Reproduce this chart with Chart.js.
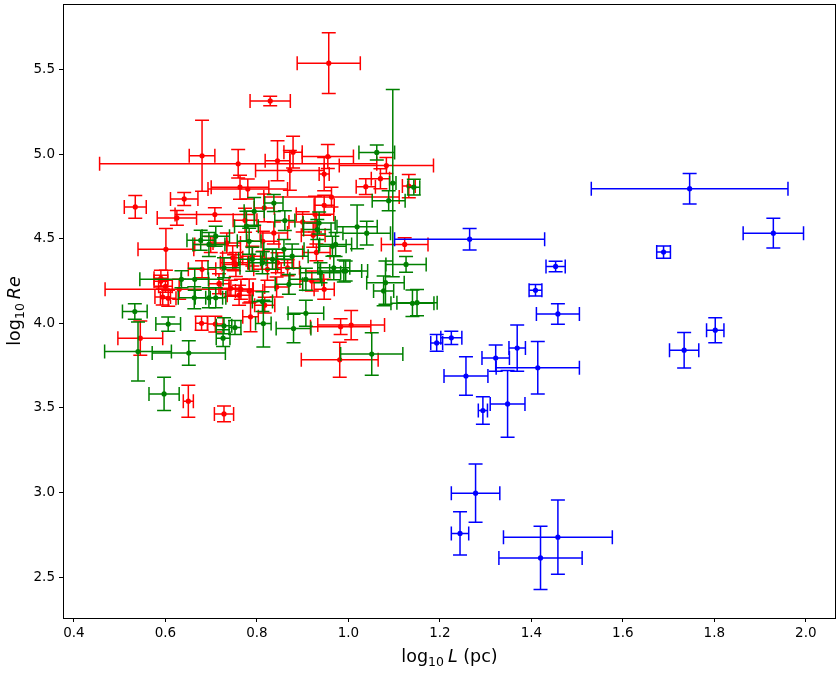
<!DOCTYPE html>
<html>
<head>
<meta charset="utf-8">
<script src="https://cdn.jsdelivr.net/npm/chart.js@4.4.1/dist/chart.umd.min.js"></script>
<style>
  body { margin: 0; background: #fff; }
  #wrap { width: 840px; height: 673px; }
</style>
</head>
<body>
<div id="wrap"><canvas id="myChart" width="840" height="673"></canvas></div>
<script>
// red group: log10 L, log10 Re and their errors
var redX = [0.957, 0.829, 0.680, 0.759, 1.083, 0.845, 0.879, 0.955, 0.872, 0.763,
  0.780, 0.963, 1.038, 1.070, 1.132, 0.641, 0.947, 0.927, 0.947, 1.123,
  0.923, 0.983, 1.006, 0.981, 0.817, 0.843, 0.947, 0.920, 0.545, 0.650,
  0.728, 0.679, 0.709, 0.786, 0.594, 0.606, 0.534, 0.625, 0.708, 0.601,
  0.734, 0.774, 0.813, 0.816, 0.590, 0.630, 0.717, 0.754, 0.765, 0.837,
  0.699, 0.790, 0.747, 0.750, 0.845, 0.867, 0.823, 0.743, 0.783, 0.761,
  0.590, 0.600, 0.900, 0.930, 0.680];
var redY = [5.539, 5.316, 4.991, 4.944, 4.934, 4.962, 5.013, 4.987, 4.905, 4.806,
  4.795, 4.747, 4.809, 4.856, 4.812, 4.736, 4.883, 4.646, 4.699, 4.467,
  4.522, 3.981, 3.990, 3.785, 4.108, 4.215, 4.202, 4.251, 3.913, 3.540,
  3.465, 4.001, 3.996, 4.039, 4.156, 4.149, 4.689, 4.624, 4.644, 4.438,
  4.476, 4.610, 4.486, 4.683, 4.267, 4.202, 4.235, 4.349, 4.202, 4.535,
  4.467, 4.398, 4.388, 4.359, 4.359, 4.329, 4.320, 4.208, 4.192, 4.167,
  4.250, 4.220, 4.600, 4.420, 4.320];
var redXErr = [0.069, 0.044, 0.028, 0.303, 0.103, 0.027, 0.020, 0.056, 0.075, 0.063,
  0.087, 0.148, 0.021, 0.020, 0.014, 0.030, 0.011, 0.041, 0.022, 0.051,
  0.026, 0.066, 0.073, 0.084, 0.022, 0.026, 0.022, 0.026, 0.049, 0.011,
  0.021, 0.013, 0.017, 0.017, 0.017, 0.017, 0.024, 0.043, 0.087, 0.061,
  0.030, 0.026, 0.035, 0.022, 0.015, 0.162, 0.022, 0.030, 0.026, 0.030,
  0.035, 0.026, 0.022, 0.030, 0.035, 0.026, 0.030, 0.022, 0.030, 0.026,
  0.015, 0.015, 0.030, 0.030, 0.030];
var redYErr = [0.180, 0.028, 0.210, 0.084, 0.047, 0.118, 0.094, 0.071, 0.118, 0.071,
  0.059, 0.059, 0.047, 0.059, 0.069, 0.039, 0.098, 0.106, 0.059, 0.039,
  0.071, 0.047, 0.087, 0.103, 0.047, 0.059, 0.059, 0.059, 0.101, 0.095,
  0.046, 0.041, 0.047, 0.088, 0.047, 0.047, 0.067, 0.044, 0.040, 0.123,
  0.059, 0.071, 0.059, 0.082, 0.047, 0.059, 0.059, 0.071, 0.059, 0.065,
  0.047, 0.059, 0.071, 0.047, 0.059, 0.047, 0.065, 0.047, 0.071, 0.059,
  0.035, 0.035, 0.060, 0.050, 0.050];

// green group
var greenX = [1.062, 1.097, 1.143, 1.088, 0.837, 0.861, 1.019, 1.040, 1.126, 0.932,
  0.972, 1.081, 1.140, 1.150, 1.077, 0.907, 0.880, 1.051, 0.814, 0.994,
  0.533, 0.606, 0.540, 0.651, 0.597, 0.728, 0.726, 0.752, 0.812, 0.663,
  0.695, 0.677, 0.695, 0.777, 0.794, 0.635, 0.664, 0.728, 0.790, 0.936,
  0.710, 0.783, 0.859, 0.812, 0.834, 0.877, 0.710, 0.870, 0.907, 0.939,
  0.968, 0.990, 0.965];
var greenY = [5.011, 4.830, 4.806, 4.726, 4.712, 4.608, 4.571, 4.534, 4.349, 4.555,
  4.467, 4.241, 4.119, 4.123, 4.192, 4.060, 3.970, 3.819, 3.999, 4.310,
  4.070, 3.996, 3.834, 3.825, 3.583, 3.986, 3.913, 3.976, 4.129, 4.152,
  4.152, 4.492, 4.467, 4.575, 4.663, 4.261, 4.261, 4.329, 4.379, 4.594,
  4.516, 4.486, 4.438, 4.359, 4.379, 4.398, 4.152, 4.231, 4.261, 4.300,
  4.329, 4.310, 4.457];
var greenXErr = [0.039, 0.007, 0.013, 0.036, 0.020, 0.022, 0.044, 0.052, 0.044, 0.030,
  0.035, 0.041, 0.047, 0.044, 0.022, 0.039, 0.038, 0.068, 0.017, 0.035,
  0.027, 0.027, 0.073, 0.080, 0.033, 0.017, 0.015, 0.013, 0.022, 0.035,
  0.030, 0.030, 0.035, 0.026, 0.022, 0.091, 0.030, 0.035, 0.030, 0.035,
  0.030, 0.026, 0.044, 0.030, 0.026, 0.035, 0.022, 0.030, 0.035, 0.044,
  0.035, 0.052, 0.030];
var greenYErr = [0.044, 0.554, 0.047, 0.059, 0.050, 0.059, 0.130, 0.070, 0.047, 0.059,
  0.071, 0.128, 0.078, 0.077, 0.088, 0.077, 0.084, 0.126, 0.138, 0.059,
  0.046, 0.042, 0.175, 0.072, 0.098, 0.047, 0.050, 0.041, 0.059, 0.065,
  0.059, 0.059, 0.071, 0.088, 0.082, 0.050, 0.065, 0.059, 0.071, 0.065,
  0.059, 0.077, 0.059, 0.065, 0.059, 0.071, 0.059, 0.059, 0.065, 0.059,
  0.071, 0.065, 0.059];

// blue group
var blueX = [1.746, 1.929, 1.689, 1.265, 1.453, 1.409, 1.458, 1.802, 1.734, 1.193,
  1.225, 1.322, 1.369, 1.414, 1.257, 1.294, 1.348, 1.278, 1.244, 1.458, 1.420];
var blueY = [4.797, 4.534, 4.422, 4.498, 4.337, 4.196, 4.056, 3.960, 3.842, 3.885,
  3.915, 3.795, 3.854, 3.738, 3.689, 3.485, 3.524, 2.996, 2.758, 2.736, 2.613];
var blueXErr = [0.215, 0.066, 0.015, 0.164, 0.021, 0.014, 0.047, 0.019, 0.032, 0.013,
  0.023, 0.030, 0.018, 0.091, 0.048, 0.010, 0.038, 0.053, 0.019, 0.119, 0.091];
var blueYErr = [0.090, 0.088, 0.036, 0.064, 0.031, 0.034, 0.061, 0.074, 0.105, 0.050,
  0.039, 0.078, 0.137, 0.155, 0.114, 0.081, 0.197, 0.172, 0.128, 0.220, 0.187];

var xTicks = [0.4, 0.6, 0.8, 1.0, 1.2, 1.4, 1.6, 1.8, 2.0];
var yTicks = [2.5, 3.0, 3.5, 4.0, 4.5, 5.0, 5.5];

function points(xs, ys, xe, ye) {
  return xs.map(function (x, i) {
    return { x: x, y: ys[i], xErr: xe[i], yErr: ye[i] };
  });
}

// draws the cross-shaped error bars of a dataset just before its markers
var errorBars = {
  id: "errorBars",
  beforeDatasetDraw: function (chart, args) {
    var ds = chart.data.datasets[args.index];
    var sx = chart.scales.x, sy = chart.scales.y, ctx = chart.ctx, a = chart.chartArea;
    var cap = 7;
    ctx.save();
    ctx.beginPath();
    ctx.rect(a.left, a.top, a.right - a.left, a.bottom - a.top);
    ctx.clip();
    ctx.strokeStyle = ds.backgroundColor;
    ctx.lineWidth = 1.5;
    ds.data.forEach(function (p) {
      var px = sx.getPixelForValue(p.x), py = sy.getPixelForValue(p.y);
      var x0 = sx.getPixelForValue(p.x - p.xErr), x1 = sx.getPixelForValue(p.x + p.xErr);
      var y0 = sy.getPixelForValue(p.y - p.yErr), y1 = sy.getPixelForValue(p.y + p.yErr);
      ctx.beginPath();
      ctx.moveTo(x0, py); ctx.lineTo(x1, py);
      ctx.moveTo(px, y0); ctx.lineTo(px, y1);
      ctx.moveTo(x0, py - cap); ctx.lineTo(x0, py + cap);
      ctx.moveTo(x1, py - cap); ctx.lineTo(x1, py + cap);
      ctx.moveTo(px - cap, y0); ctx.lineTo(px + cap, y0);
      ctx.moveTo(px - cap, y1); ctx.lineTo(px + cap, y1);
      ctx.stroke();
    });
    ctx.restore();
  }
};

// frame and the mathtext-like axis titles
function richText(ctx, parts, cx, cy) {
  var total = 0;
  parts.forEach(function (p) {
    ctx.font = p.font;
    p.w = ctx.measureText(p.t).width;
    total += p.w;
  });
  var x = cx - total / 2;
  parts.forEach(function (p) {
    ctx.font = p.font;
    ctx.fillText(p.t, x, cy + (p.dy || 0));
    x += p.w;
  });
}

var decorations = {
  id: "decorations",
  afterDraw: function (chart) {
    var ctx = chart.ctx, a = chart.chartArea;
    ctx.save();
    ctx.strokeStyle = "#000";
    ctx.lineWidth = 1;
    ctx.strokeRect(a.left + 0.5, a.top + 0.5, a.right - a.left - 1, a.bottom - a.top);
    ctx.fillStyle = "#000";
    ctx.textBaseline = "alphabetic";
    var big = "17.5px 'DejaVu Sans'", small = "12.5px 'DejaVu Sans'", ital = "italic 17.5px 'DejaVu Sans'";
    richText(ctx, [
      { t: "log", font: big }, { t: "10", font: small, dy: 4 }, { t: " ", font: small },
      { t: "L", font: ital }, { t: " (pc)", font: big }
    ], (a.left + a.right) / 2, 662);
    ctx.translate(20, (a.top + a.bottom) / 2);
    ctx.rotate(-Math.PI / 2);
    richText(ctx, [
      { t: "log", font: big }, { t: "10", font: small, dy: 4 }, { t: " ", font: small },
      { t: "Re", font: ital }
    ], 0, 0);
    ctx.restore();
  }
};

// keep the plot box fixed: no extra label padding from the scales
function noPad(s) {
  s.paddingTop = 0;
  s.paddingBottom = 0;
  s.paddingLeft = 0;
  s.paddingRight = 0;
}

var ctx = document.getElementById("myChart").getContext("2d");

var myChart = new Chart(ctx, {
  type: "scatter",
  data: {
    datasets: [
      {
        label: "red",
        data: points(redX, redY, redXErr, redYErr),
        backgroundColor: "#ff0000",
        borderWidth: 0,
        pointRadius: 2.6,
        order: 3,
      },
      {
        label: "green",
        data: points(greenX, greenY, greenXErr, greenYErr),
        backgroundColor: "#008000",
        borderWidth: 0,
        pointRadius: 2.6,
        order: 2,
      },
      {
        label: "blue",
        data: points(blueX, blueY, blueXErr, blueYErr),
        backgroundColor: "#0000ff",
        borderWidth: 0,
        pointRadius: 2.6,
        order: 1,
      },
    ],
  },
  options: {
    responsive: false,
    animation: false,
    layout: { padding: { top: 2, right: 2, left: 0, bottom: 0 } },
    plugins: { legend: { display: false }, tooltip: { enabled: false } },
    scales: {
      x: {
        type: "linear",
        min: 0.376,
        max: 2.066,
        afterBuildTicks: function (s) { s.ticks = xTicks.map(function (v) { return { value: v }; }); },
        afterFit: function (s) { s.height = 55; noPad(s); },
        grid: { drawOnChartArea: false, drawTicks: true, tickLength: 4, tickColor: "#000", tickWidth: 1 },
        border: { display: false },
        ticks: {
          color: "#000",
          padding: 3,
          maxRotation: 0,
          autoSkip: false,
          font: { family: "DejaVu Sans", size: 13.5 },
          callback: function (v) { return v.toFixed(1); },
        },
      },
      y: {
        type: "linear",
        min: 2.258,
        max: 5.889,
        afterBuildTicks: function (s) { s.ticks = yTicks.map(function (v) { return { value: v }; }); },
        afterFit: function (s) { s.width = 63; noPad(s); },
        grid: { drawOnChartArea: false, drawTicks: true, tickLength: 4, tickColor: "#000", tickWidth: 1 },
        border: { display: false },
        ticks: {
          color: "#000",
          padding: 4,
          autoSkip: false,
          font: { family: "DejaVu Sans", size: 13.5 },
          callback: function (v) { return v.toFixed(1); },
        },
      },
    },
  },
  plugins: [errorBars, decorations],
});
</script>
</body>
</html>
